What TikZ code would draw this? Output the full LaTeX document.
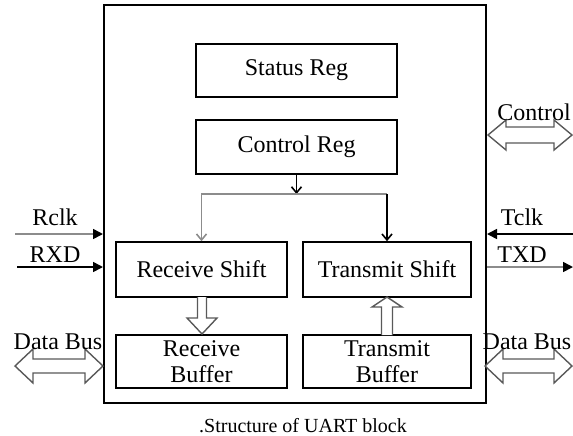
\documentclass[tikz,border=0pt]{standalone}
\usepackage{fontspec}
\setmainfont{Liberation Serif}
\usetikzlibrary{arrows.meta}
\usetikzlibrary{positioning}

\tikzset{
  block/.style={draw, line width=0.8pt, inner sep=0pt, align=center,
    font=\fontsize{12}{13}\selectfont},
  sig/.style={font=\fontsize{12}{13}\selectfont},
  pin/.style={line width=0.8pt, -{Triangle[length=5pt,width=5pt,black]}},
  tap/.style={line width=0.8pt, -{Straight Barb[length=3pt,width=5pt]}},
  hollow/.style={draw=black!65, line width=0.7pt, fill=white}
}

\begin{document}
\begin{tikzpicture}[x=0.5pt,y=-0.5pt]
  \useasboundingbox (0,0) rectangle (573,435);
  \clip (0,0) rectangle (573,435);

  % outer UART block
  \node[draw, line width=1pt, minimum width=191pt, minimum height=199pt] (uart) at (295,204) {};

  % registers
  \node[block, minimum width=100.5pt, minimum height=26.5pt] (status) at (296.5,70.5) {Status Reg};
  \node[block, minimum width=100.5pt, minimum height=27pt] (ctrl) at (296.5,147) {Control Reg};

  % shift registers and buffers
  \node[block, minimum width=85.5pt, minimum height=27.5pt] (rshift) at (201.5,269.5) {Receive Shift};
  \node[block, minimum width=84pt, minimum height=27.5pt] (tshift) at (387,269.5) {Transmit Shift};
  \node[block, minimum width=85.5pt, minimum height=26.5pt] (rbuf) at (201.5,361.5) {Receive\\Buffer};
  \node[block, minimum width=84pt, minimum height=26.5pt] (tbuf) at (387,361.5) {Transmit\\Buffer};

  % control reg feeds both shift registers
  \coordinate (split) at (296.5,194);
  \draw[tap] (ctrl.south) -- (split);
  \draw[tap, black!45] (split) -- (split -| rshift.north) -- (rshift.north);
  \draw[black!45, line width=0.8pt] (split) -- (split -| tshift.north);
  \draw[tap] (split -| tshift.north) -- (tshift.north);

  % hollow arrows between shift registers and buffers
  \foreach \xc/\ya/\ym/\yb/\s in {202/297/318/334/4.5,387/335/307/297/5.5}
  {
    \draw[hollow] (\xc-\s,\ya) -- (\xc-\s,\ym) -- (\xc-15,\ym) -- (\xc,\yb)
      -- (\xc+15,\ym) -- (\xc+\s,\ym) -- (\xc+\s,\ya);
  }

  % serial side
  \coordinate (rclkin) at (15,234);
  \coordinate (rxdin) at (17,267);
  \coordinate (tclkin) at (573,234);
  \coordinate (txdout) at (573,267);
  \draw[pin, black!45] (rclkin) -- (rclkin -| uart.west);
  \draw[pin] (rxdin) -- (rxdin -| uart.west);
  \draw[pin] (tclkin) -- (tclkin -| uart.east);
  \draw[pin, black!45] (txdout -| uart.east) -- (txdout);

  \node[sig] (rclk) at (55,217) {Rclk};
  \node[sig] (rxd) at (55,255) {RXD};
  \node[sig] (tclk) at (522,217) {Tclk};
  \node[sig] (txd) at (522,255) {TXD};

  % bus side, hollow double arrows
  \foreach \xa/\xb/\yc/\s/\h in {15/103/366/7/17,485/572/366/7/17,488/572/135/8/15}
  {
    \draw[hollow] (\xa,\yc) -- (\xa+18,\yc-\h) -- (\xa+18,\yc-\s) -- (\xb-18,\yc-\s)
      -- (\xb-18,\yc-\h) -- (\xb,\yc) -- (\xb-18,\yc+\h) -- (\xb-18,\yc+\s)
      -- (\xa+18,\yc+\s) -- (\xa+18,\yc+\h) -- cycle;
  }
  \node[sig] (busl) at (58,342) {Data Bus};
  \node[sig] (busr) at (527,342) {Data Bus};
  \node[sig] (ctrlbus) at (534,112) {Control};

  \node[font=\fontsize{10}{12}\selectfont] (caption) at (303,426) {.Structure of UART block};
\end{tikzpicture}
\end{document}
